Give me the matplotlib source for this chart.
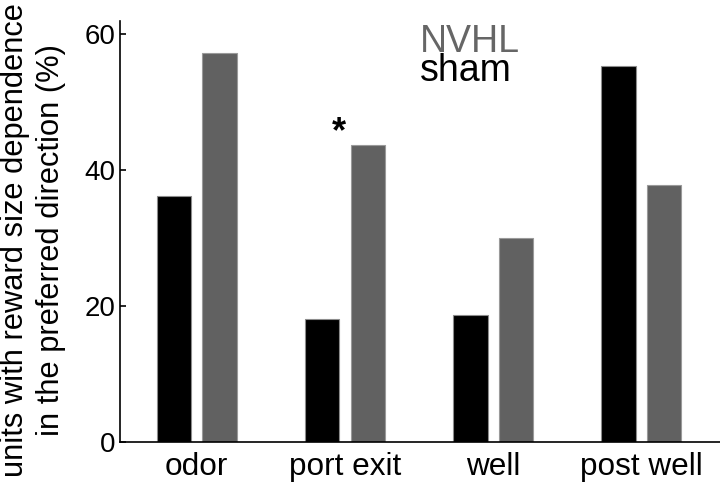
import numpy as np
import matplotlib
matplotlib.use('Agg')
import matplotlib.pyplot as plt

plt.rcParams['font.family'] = ['Liberation Sans', 'DejaVu Sans']

# values (% of units)
categories = ['odor', 'port exit', 'well', 'post well']
sham = [36.2, 18.1, 18.7, 55.3]
nvhl = [57.3, 43.7, 30.1, 37.8]

fig = plt.figure(figsize=(7.2, 4.9), dpi=100)
ax = fig.add_axes([0.1667, 0.0973, 0.8333, 0.8605])

x = np.arange(len(categories))
w = 0.233
off = 0.154
ax.bar(x - off, sham, w, color='black', edgecolor='#8c8c8c', linewidth=0.8)
ax.bar(x + off, nvhl, w, color='#616161', edgecolor='#9a9a9a', linewidth=0.8)

ax.set_xlim(-0.518, 3.531)
ax.set_ylim(0, 62)
ax.set_yticks([0, 20, 40, 60])
ax.set_xticks(x)
ax.set_xticklabels(categories, fontsize=22.7)
ax.tick_params(axis='x', length=0, pad=7)
ax.tick_params(axis='y', direction='in', length=4, width=1.2, labelsize=20, pad=3)

for s in ['top', 'right']:
    ax.spines[s].set_visible(False)
for s in ['left', 'bottom']:
    ax.spines[s].set_linewidth(1.2)

# significance star over port exit
ax.text(1 - 0.04, 45.5, '*', fontsize=26, fontweight='bold', ha='center', va='center')

# legend as coloured text
ax.text(1.507, 57.4, 'NVHL', color='#666666', fontsize=27, ha='left', va='baseline')
ax.text(1.507, 53.2, 'sham', color='black', fontsize=27, ha='left', va='baseline')

fig.text(33 / 720, 1 - 240 / 490,
         'units with reward size dependence\nin the preferred direction (%)',
         rotation=90, ha='center', va='center', multialignment='center',
         fontsize=22.2, linespacing=1.25)

fig.savefig('out.png', dpi=100)
